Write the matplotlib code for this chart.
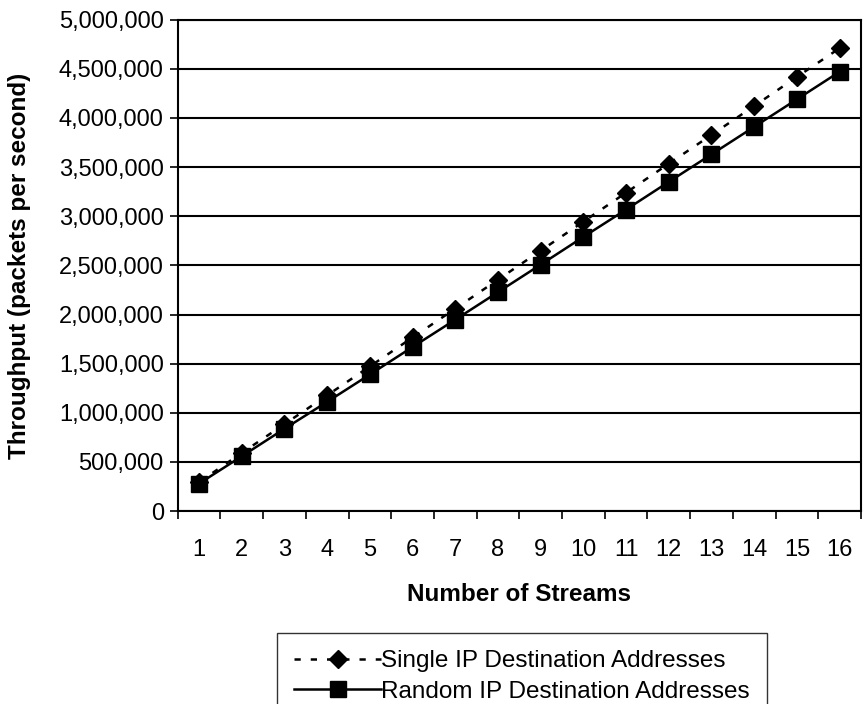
import numpy as np
import matplotlib.pyplot as plt

plt.rcParams['font.family'] = ['Liberation Sans', 'DejaVu Sans']

streams = list(range(1, 17))
single_ip = [295000, 592000, 885000, 1178000, 1472000, 1767000, 2060000, 2355000,
             2650000, 2945000, 3240000, 3535000, 3828000, 4122000, 4418000, 4710000]
random_ip = [280000, 558000, 838000, 1112000, 1390000, 1670000, 1948000, 2228000,
             2508000, 2790000, 3068000, 3350000, 3630000, 3910000, 4190000, 4470000]

fig = plt.figure(figsize=(8.67, 7.04), dpi=100)
ax = fig.add_axes([0.205, 0.274, 0.788, 0.698])

ax.plot(streams, single_ip, linestyle=(0, (2.5, 4)), color='black', lw=1.8,
        marker='D', markersize=9, label='Single IP Destination Addresses')
ax.plot(streams, random_ip, linestyle='-', color='black', lw=1.8,
        marker='s', markersize=11, label='Random IP Destination Addresses')

ax.set_xlim(0.5, 16.5)
ax.set_ylim(0, 5000000)
ax.set_yticks(np.arange(0, 5000001, 500000))
ax.set_yticklabels(['{:,}'.format(v) for v in range(0, 5000001, 500000)])
ax.yaxis.grid(True, color='black', lw=1.5)
ax.set_axisbelow(True)

# x ticks between categories, labels centered
ax.set_xticks(np.arange(0.5, 17, 1))
ax.set_xticklabels([])
ax.set_xticks(streams, minor=True)
ax.set_xticklabels([str(s) for s in streams], minor=True)
ax.tick_params(axis='x', which='minor', length=0, pad=20, labelsize=17)
ax.tick_params(axis='x', which='major', length=6, width=1.2, direction='out')
ax.tick_params(axis='y', length=6, width=1.2, direction='out', labelsize=17, pad=4)

for s in ax.spines.values():
    s.set_linewidth(1.5)

ax.set_xlabel('Number of Streams', fontsize=17.5, fontweight='bold', labelpad=16)
ax.set_ylabel('Throughput (packets per second)', fontsize=17.5, fontweight='bold', labelpad=20)

leg = fig.legend(loc='upper center', bbox_to_anchor=(522 / 867, 1 - 633 / 704),
                 fontsize=17.5, frameon=True, fancybox=False, handlelength=3.6,
                 borderpad=0.7, labelspacing=0.35, handletextpad=0.0,
                 borderaxespad=0)
leg.get_frame().set_edgecolor('black')
leg.get_frame().set_linewidth(1.0)

fig.savefig('out.png', dpi=100)
